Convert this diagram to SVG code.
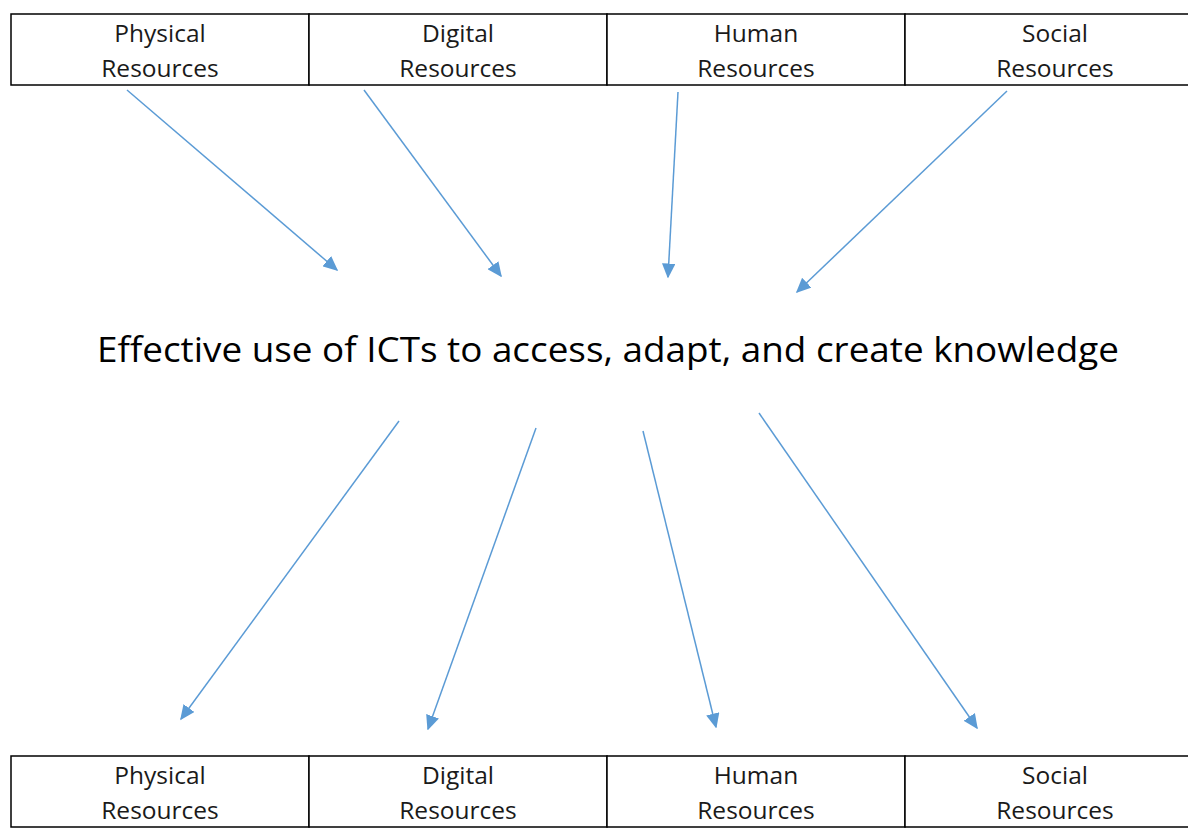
<svg xmlns="http://www.w3.org/2000/svg" width="1188" height="829" viewBox="0 0 1188 829">
<style>
.cell{fill:#fff;stroke:#000;stroke-width:1.5}
.lbl{font-family:"Open Sans","Noto Sans",sans-serif;font-size:24.5px;fill:#1a1a1a;text-anchor:middle}
.main{font-family:"Open Sans","Noto Sans",sans-serif;font-size:35px;fill:#000;text-anchor:middle}
.arr{stroke:#5B9BD5;stroke-width:1.5;fill:none;marker-end:url(#ah)}
</style>
<defs>
<marker id="ah" markerWidth="10" markerHeight="9" refX="9" refY="4.5" orient="auto" markerUnits="strokeWidth">
<path d="M0,0 L10,4.5 L0,9 Z" fill="#5B9BD5"/>
</marker>
</defs>
<rect width="1188" height="829" fill="#fff"/>
<g id="top-physical"><rect class="cell" x="11" y="14" width="298" height="71"/><text class="lbl" x="160" y="42">Physical</text><text class="lbl" x="160" y="77">Resources</text></g>
<g id="top-digital"><rect class="cell" x="309" y="14" width="298" height="71"/><text class="lbl" x="458" y="42">Digital</text><text class="lbl" x="458" y="77">Resources</text></g>
<g id="top-human"><rect class="cell" x="607" y="14" width="298" height="71"/><text class="lbl" x="756" y="42">Human</text><text class="lbl" x="756" y="77">Resources</text></g>
<g id="top-social"><rect class="cell" x="905" y="14" width="300" height="71"/><text class="lbl" x="1055" y="42">Social</text><text class="lbl" x="1055" y="77">Resources</text></g>
<g id="center"><text class="main" x="608" y="362" textLength="1022" lengthAdjust="spacingAndGlyphs">Effective use of ICTs to access, adapt, and create knowledge</text></g>
<g id="bottom-physical"><rect class="cell" x="11" y="756" width="298" height="71"/><text class="lbl" x="160" y="784">Physical</text><text class="lbl" x="160" y="819">Resources</text></g>
<g id="bottom-digital"><rect class="cell" x="309" y="756" width="298" height="71"/><text class="lbl" x="458" y="784">Digital</text><text class="lbl" x="458" y="819">Resources</text></g>
<g id="bottom-human"><rect class="cell" x="607" y="756" width="298" height="71"/><text class="lbl" x="756" y="784">Human</text><text class="lbl" x="756" y="819">Resources</text></g>
<g id="bottom-social"><rect class="cell" x="905" y="756" width="300" height="71"/><text class="lbl" x="1055" y="784">Social</text><text class="lbl" x="1055" y="819">Resources</text></g>
<g id="connectors">
<line class="arr" x1="127" y1="90" x2="337" y2="270"/>
<line class="arr" x1="364" y1="90" x2="501" y2="276"/>
<line class="arr" x1="678" y1="92" x2="668" y2="277"/>
<line class="arr" x1="1007" y1="91" x2="797" y2="292"/>
<line class="arr" x1="399" y1="421" x2="181" y2="719"/>
<line class="arr" x1="536" y1="428" x2="428" y2="729"/>
<line class="arr" x1="643" y1="431" x2="716" y2="727"/>
<line class="arr" x1="759" y1="413" x2="977" y2="728"/>
</g>
</svg>
